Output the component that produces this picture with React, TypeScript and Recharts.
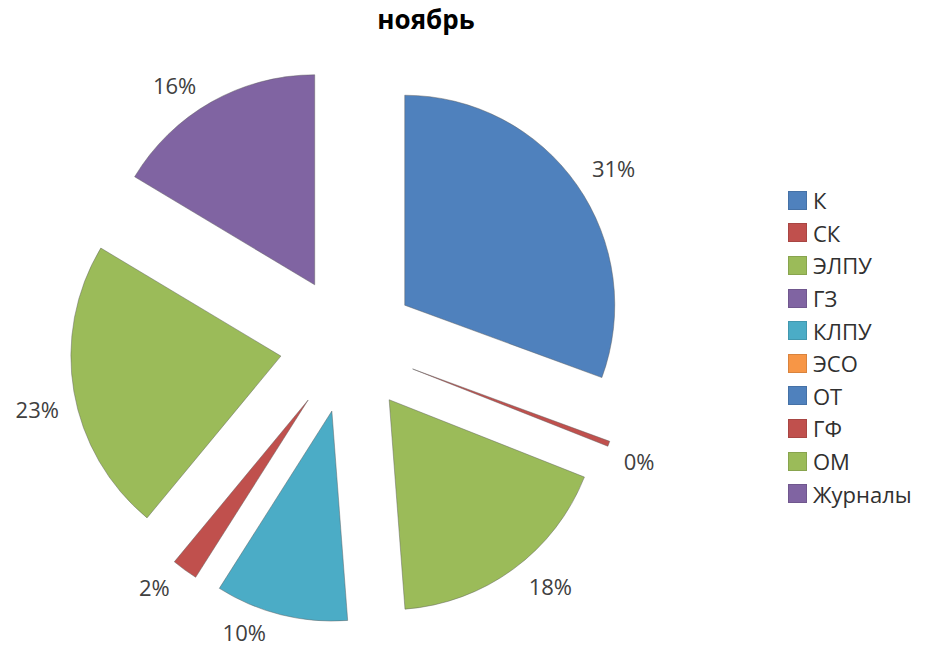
import React from 'react';
import { PieChart, Pie, Cell, Legend } from 'recharts';

const categories = ['К', 'СК', 'ЭЛПУ', 'ГЗ', 'КЛПУ', 'ЭСО', 'ОТ', 'ГФ', 'ОМ', 'Журналы'];
const shares = [30.6, 0.4, 17.8, 0, 10.2, 0, 0, 2, 22.6, 16.4];
const palette = ['#4F81BD', '#C0504D', '#9BBB59', '#8064A2', '#4BACC6', '#F79646', '#4F81BD', '#C0504D', '#9BBB59', '#8064A2'];

const FONT = '"Open Sans", sans-serif';
const CX = 348.5;
const CY = 344.5;
const R = 210;
const EXPLODE = 68.6;
const LABEL_SIZE = 22;

const data = categories.map((name, i) => ({ name, value: shares[i] }));
const total = shares.reduce((a, b) => a + b, 0);

// clockwise angle (from 12 o'clock) of each slice's middle, used to push it outwards
const midFractions = shares.map((v, i) => {
    const before = shares.slice(0, i).reduce((a, b) => a + b, 0);
    return (before + v / 2) / total;
});

// excel-like "outside end": label box sits diagonally off the arc point of the slice
const makeLabel = (slice: number) => (props: any) => {
    if (props.index !== slice) return null;
    const { cx, cy, midAngle, outerRadius, percent } = props;
    const rad = (-midAngle * Math.PI) / 180;
    const cos = Math.cos(rad);
    const sin = Math.sin(rad);
    const text = `${Math.round(percent * 100)}%`;
    const textW = LABEL_SIZE * (0.572 * (text.length - 1) + 0.824);
    const ax = cx + outerRadius * cos;
    const ay = cy + outerRadius * sin;
    const x = ax + Math.sign(cos) * (textW / 2 + 15);
    const y = ay + Math.sign(sin) * 17.5;
    return (
        <text
            key={`lbl-${slice}`}
            x={x}
            y={y}
            fill="#404040"
            fontSize={LABEL_SIZE}
            fontFamily={FONT}
            textAnchor="middle"
            dominantBaseline="central"
        >
            {text}
        </text>
    );
};

function LegendBox() {
    return (
        <div style={{ fontFamily: FONT, fontSize: 22, color: '#303030' }}>
            {categories.map((name, i) => (
                <div key={name} style={{ display: 'flex', alignItems: 'center', height: 32.6 }}>
                    <span
                        style={{
                            width: 19,
                            height: 19,
                            background: palette[i],
                            border: '1px solid rgba(0,0,0,0.12)',
                            boxSizing: 'border-box',
                            marginRight: 6,
                        }}
                    />
                    <span>{name}</span>
                </div>
            ))}
        </div>
    );
}

export default function App() {
    return (
        <div style={{ position: 'absolute', left: 0, top: 0, width: 934, height: 647, background: '#fff' }}>
            <div
                style={{
                    position: 'absolute',
                    left: 326,
                    width: 200,
                    top: 6,
                    lineHeight: 1,
                    textAlign: 'center',
                    fontFamily: FONT,
                    fontWeight: 700,
                    fontSize: 26,
                    color: '#000',
                }}
            >
                ноябрь
            </div>
            <PieChart width={934} height={647} margin={{ top: 0, right: 0, bottom: 0, left: 0 }}>
                {shares.map((v, slice) => {
                    if (v === 0) return null;
                    const theta = midFractions[slice] * 2 * Math.PI;
                    return (
                        <Pie
                            key={categories[slice]}
                            data={data}
                            dataKey="value"
                            nameKey="name"
                            cx={CX + EXPLODE * Math.sin(theta)}
                            cy={CY - EXPLODE * Math.cos(theta)}
                            outerRadius={R}
                            startAngle={90}
                            endAngle={-270}
                            isAnimationActive={false}
                            labelLine={false}
                            label={makeLabel(slice)}
                            legendType="none"
                        >
                            {data.map((d, i) => (
                                <Cell
                                    key={d.name}
                                    fill={i === slice ? palette[i] : 'none'}
                                    stroke={i === slice ? 'rgba(90,90,90,0.45)' : 'none'}
                                    strokeWidth={1}
                                />
                            ))}
                        </Pie>
                    );
                })}
                <Legend
                    layout="vertical"
                    content={() => <LegendBox />}
                    wrapperStyle={{ position: 'absolute', left: 788, top: 184, width: 146 }}
                />
            </PieChart>
        </div>
    );
}
